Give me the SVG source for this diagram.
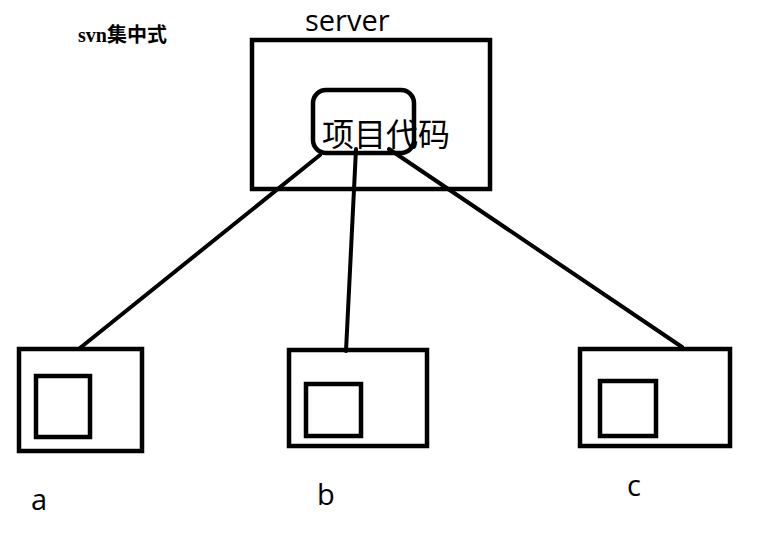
<svg xmlns="http://www.w3.org/2000/svg" width="757" height="537" viewBox="0 0 757 537">
<style>
.box{fill:none;stroke:#000;stroke-width:4.5}
.con{stroke:#000;stroke-width:4;stroke-linecap:round;fill:none}
.lbl{font-family:"Open Sans","Noto Sans","Liberation Sans",sans-serif;fill:#000}
.cjk{font-family:"Noto Sans CJK SC",sans-serif;fill:#000}
</style>
<rect width="757" height="537" fill="#fff"/>
<text x="78" y="42" font-family="'Liberation Serif','Noto Sans CJK SC',serif" font-size="20" font-weight="600">svn集中式</text>
<g id="server">
<rect class="box" x="252" y="40" width="238" height="149"/>
<text class="lbl" x="305" y="31" font-size="29">server</text>
</g>
<g id="code">
<rect class="box" x="313" y="90" width="101" height="63" rx="13"/>
<text class="cjk" x="322" y="146" font-size="32">项目代码</text>
</g>
<g id="connectors">
<line class="con" x1="320" y1="155" x2="80" y2="348"/>
<line class="con" x1="356" y1="149" x2="346" y2="351"/>
<line class="con" x1="389" y1="149" x2="682" y2="347"/>
</g>
<g id="client-a">
<rect class="box" x="19" y="349" width="123" height="102"/>
<rect class="box" x="36" y="376" width="54" height="61"/>
<text class="lbl" x="31" y="510" font-size="29">a</text>
</g>
<g id="client-b">
<rect class="box" x="289" y="350" width="138" height="96"/>
<rect class="box" x="306" y="384" width="55" height="52"/>
<text class="lbl" x="317" y="505" font-size="29">b</text>
</g>
<g id="client-c">
<rect class="box" x="580" y="349" width="150" height="97"/>
<rect class="box" x="600" y="381" width="56" height="55"/>
<text class="lbl" x="627" y="496" font-size="29">c</text>
</g>
</svg>
